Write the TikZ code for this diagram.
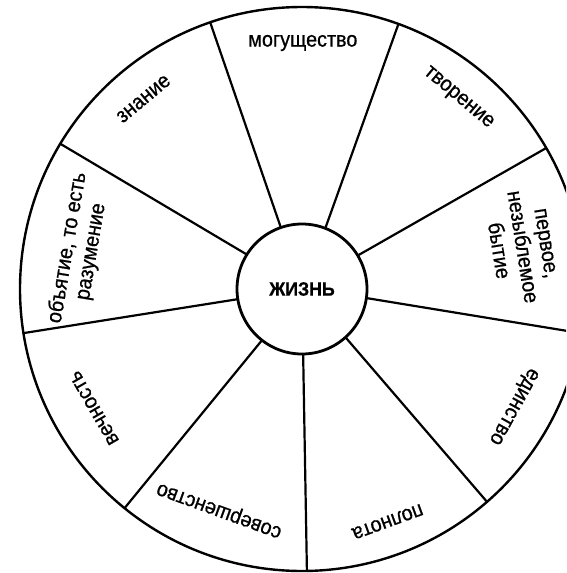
\documentclass[tikz,border=0pt]{standalone}
\usepackage{fontspec}
\setmainfont{Liberation Sans}[FakeStretch=0.92, FakeBold=0.7]
\usetikzlibrary{calc}
\begin{document}
\begin{tikzpicture}[x=1pt,y=-1pt,
  lbl/.style={font=\fontsize{21.5}{24}\selectfont, align=center, inner sep=0pt},
  spoke/.style={line width=2.2pt},
  ring/.style={circle, draw, inner sep=0pt, outer sep=0pt}]
\useasboundingbox (0,0) rectangle (566,573);
\clip (0,0) rectangle (566,573);
\node[ring, line width=2.4pt, minimum size=564pt] (outer) at (302,289) {};
\node[ring, fill=white, line width=2.8pt, minimum size=130pt,
      font=\bfseries\fontsize{19.3}{23}\selectfont] (c) at (302,289) {ЖИЗНЬ};
\foreach \a/\b in {109/109.4, 69.7/70.1, 31.6/30.8, -8.5/-9.2, -48.4/-49.3,
                   -89/-89.7, -128.8/-129.7, 189/189.8, 148.3/149.6}
  \draw[spoke] (c.\a) -- (outer.\b);
\node[lbl] (mog) at ($(c)+(89.8:246pt)$) {могущество};
\node[lbl, rotate=-40] (tvo) at ($(c)+(50.7:246.6pt)$) {творение};
\node[lbl, rotate=-81] (per) at ($(c)+(10.8:223.7pt)$) {первое,\\незыблемое\\бытие};
\node[lbl, rotate=-119] (edi) at ($(c)+(-29:241pt)$) {единство};
\node[lbl, rotate=-160] (pol) at ($(c)+(-69.8:247.9pt)$) {полнота};
\node[lbl, rotate=160] (sov) at ($(c)+(-110.5:235pt)$) {совершенство};
\node[lbl, rotate=120] (vec) at ($(c)+(-150.2:239.6pt)$) {вечность};
\node[lbl, rotate=80.5] (obj) at ($(c)+(170:226pt)$) {объятие, то есть\\разумение};
\node[lbl, rotate=39.8] (zna) at ($(c)+(129.8:247.4pt)$) {знание};
\end{tikzpicture}
\end{document}
